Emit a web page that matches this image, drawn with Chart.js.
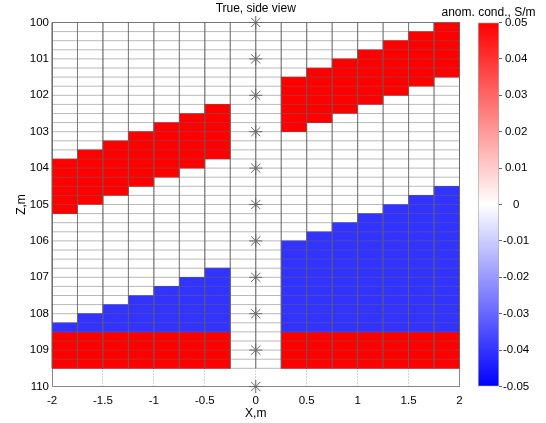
<!DOCTYPE html>
<html>
<head>
<meta charset="utf-8">
<script src="https://cdn.jsdelivr.net/npm/chart.js@4"></script>
<style>
    html, body { margin: 0; padding: 0; background: #fff; }
    #wrap { position: relative; width: 546px; height: 423px; }
    #main { position: absolute; left: 0; top: 0; }
    #cbar { position: absolute; left: 431px; top: 0; }
</style>
</head>
<body>
<div id="wrap">
    <canvas id="main" width="546" height="423"></canvas>
    <canvas id="cbar" width="115" height="423"></canvas>
</div>
<script>
// Cell centres (X, m) of the model columns
const cellX = [-1.875, -1.625, -1.375, -1.125, -0.875, -0.625, -0.375,
               0.375, 0.625, 0.875, 1.125, 1.375, 1.625, 1.875];

// Upper conductive (red) layer, Z top / bottom per column
const redTopFrom = [103.75, 103.5, 103.25, 103, 102.75, 102.5, 102.25,
                    101.5, 101.25, 101, 100.75, 100.5, 100.25, 100];
const redTopTo = [105.25, 105, 104.75, 104.5, 104.25, 104, 103.75,
                  103, 102.75, 102.5, 102.25, 102, 101.75, 101.5];

// Resistive (blue) wedge
const blueFrom = [108.25, 108, 107.75, 107.5, 107.25, 107, 106.75,
                  106, 105.75, 105.5, 105.25, 105, 104.75, 104.5];
const blueTo = [108.5, 108.5, 108.5, 108.5, 108.5, 108.5, 108.5,
                108.5, 108.5, 108.5, 108.5, 108.5, 108.5, 108.5];

// Bottom conductive (red) layer
const redBotFrom = [108.5, 108.5, 108.5, 108.5, 108.5, 108.5, 108.5,
                    108.5, 108.5, 108.5, 108.5, 108.5, 108.5, 108.5];
const redBotTo = [109.5, 109.5, 109.5, 109.5, 109.5, 109.5, 109.5,
                  109.5, 109.5, 109.5, 109.5, 109.5, 109.5, 109.5];

// anomalous conductivity of each body, S/m
const condRed = 0.05;
const condBlue = -0.04;

// mesh nodes
const meshX = [-2, -1.75, -1.5, -1.25, -1, -0.75, -0.5, -0.25, 0,
               0.25, 0.5, 0.75, 1, 1.25, 1.5, 1.75, 2];
const meshZ = [100, 100.25, 100.5, 100.75, 101, 101.25, 101.5, 101.75,
               102, 102.25, 102.5, 102.75, 103, 103.25, 103.5, 103.75,
               104, 104.25, 104.5, 104.75, 105, 105.25, 105.5, 105.75,
               106, 106.25, 106.5, 106.75, 107, 107.25, 107.5, 107.75,
               108, 108.25, 108.5, 108.75, 109, 109.25, 109.5];

// electrodes along the borehole at X = 0
const electrodeZ = [100, 101, 102, 103, 104, 105, 106, 107, 108, 109, 110];

// ticks
const xTicks = [-2, -1.5, -1, -0.5, 0, 0.5, 1, 1.5, 2];
const zTicks = [100, 101, 102, 103, 104, 105, 106, 107, 108, 109, 110];
const cbarTicks = [-0.05, -0.04, -0.03, -0.02, -0.01, 0, 0.01, 0.02, 0.03, 0.04, 0.05];

const FONT = "'Liberation Sans', Arial, sans-serif";
const MESH = 'rgba(100,100,100,0.45)';
const AXIS = '#888';

// blue - white - red colour map over [-0.05, 0.05]
function cmap(v) {
    const t = Math.max(-1, Math.min(1, v / 0.05));
    if (t >= 0) {
        const k = Math.round(255 * (1 - t));
        return `rgb(255,${k},${k})`;
    }
    const k = Math.round(255 * (1 + t));
    return `rgb(${k},${k},255)`;
}

function cells(from, to) {
    return cellX.map((x, i) => ({ x: x, y: [from[i], to[i]] }));
}

function barSet(from, to, value) {
    return {
        type: 'bar',
        data: cells(from, to),
        backgroundColor: cmap(value),
        borderWidth: 0,
        grouped: false,
        barPercentage: 1,
        categoryPercentage: 1,
        order: 2
    };
}

const x0 = meshX[0], x1 = meshX[meshX.length - 1];
const z0 = meshZ[0], z1 = meshZ[meshZ.length - 1];
const meshLines = []
    .concat(meshZ.flatMap(z => [{ x: x0, y: z }, { x: x1, y: z }, { x: x1, y: null }]))
    .concat(meshX.flatMap(x => [{ x: x, y: z0 }, { x: x, y: z1 }, { x: x, y: null }]));

Chart.defaults.font.family = FONT;
Chart.defaults.color = '#000';

new Chart(document.getElementById('main'), {
    type: 'bar',
    data: {
        datasets: [
            barSet(redTopFrom, redTopTo, condRed),
            barSet(blueFrom, blueTo, condBlue),
            barSet(redBotFrom, redBotTo, condRed),
            {
                type: 'line',
                data: meshLines,
                borderColor: MESH,
                borderWidth: 1,
                pointRadius: 0,
                tension: 0,
                fill: false,
                spanGaps: false,
                clip: false,
                order: 1
            },
            {
                type: 'scatter',
                data: electrodeZ.map(z => ({ x: 0, y: z })),
                pointStyle: 'star',
                pointRadius: 6.5,
                borderColor: '#666',
                borderWidth: 1,
                clip: false,
                order: 0
            }
        ]
    },
    options: {
        responsive: false,
        animation: false,
        events: [],
        layout: { padding: { left: 0, right: 86.5, top: 0, bottom: 0 } },
        plugins: {
            legend: { display: false },
            tooltip: { enabled: false },
            title: {
                display: true,
                text: 'True, side view',
                fullSize: false,
                font: { size: 12, weight: 'normal' },
                padding: { top: 1, bottom: 7.1 }
            }
        },
        scales: {
            x: {
                type: 'linear',
                min: -2,
                max: 2,
                offset: false,
                afterBuildTicks: s => { s.ticks = xTicks.map(v => ({ value: v })); },
                afterFit: s => { s.height = 36.5; },
                ticks: { font: { size: 11.5 }, padding: 7, callback: v => String(v) },
                grid: { offset: false, color: '#aaa', drawTicks: false },
                border: { color: AXIS, dash: [1, 2] },
                title: { display: true, text: 'X,m', font: { size: 12 }, padding: { top: 0, bottom: 2 } }
            },
            y: {
                type: 'linear',
                min: 100,
                max: 110,
                reverse: true,
                afterBuildTicks: s => { s.ticks = zTicks.map(v => ({ value: v })); },
                afterFit: s => { s.width = 52; },
                ticks: { font: { size: 11.5 }, padding: 3, callback: v => String(v) },
                grid: { display: false, drawTicks: false },
                border: { color: AXIS },
                title: { display: true, text: 'Z,m', font: { size: 12 }, padding: { top: 14, bottom: 0 } }
            },
            x2: {
                type: 'linear',
                position: 'top',
                min: -2,
                max: 2,
                ticks: { display: false },
                grid: { display: false, drawTicks: false },
                border: { color: AXIS },
                afterFit: s => { s.height = 0; }
            },
            y2: {
                type: 'linear',
                position: 'right',
                min: 100,
                max: 110,
                ticks: { display: false },
                grid: { display: false, drawTicks: false },
                border: { color: AXIS },
                afterFit: s => { s.width = 0; }
            }
        }
    }
});

// colour bar
new Chart(document.getElementById('cbar'), {
    type: 'bar',
    data: {
        labels: ['cond'],
        datasets: [{
            data: [[cbarTicks[0], cbarTicks[cbarTicks.length - 1]]],
            backgroundColor: ctx => {
                const chart = ctx.chart;
                if (!chart.chartArea) return null;
                const ys = chart.scales.y;
                const lo = cbarTicks[0], hi = cbarTicks[cbarTicks.length - 1];
                const g = chart.ctx.createLinearGradient(0, ys.getPixelForValue(lo), 0, ys.getPixelForValue(hi));
                cbarTicks.forEach(v => g.addColorStop((v - lo) / (hi - lo), cmap(v)));
                return g;
            },
            borderColor: '#aaa',
            borderWidth: 1,
            borderSkipped: false,
            barPercentage: 1,
            categoryPercentage: 1
        }]
    },
    options: {
        responsive: false,
        animation: false,
        events: [],
        layout: { padding: { left: 0, right: 0, top: 0, bottom: 36.5 } },
        plugins: {
            legend: { display: false },
            tooltip: { enabled: false },
            title: {
                display: true,
                text: 'anom. cond., S/m',
                font: { size: 12, weight: 'normal' },
                padding: { top: 5.3, bottom: 2.8 }
            }
        },
        scales: {
            x: { display: false },
            yl: {
                position: 'left',
                min: -0.05,
                max: 0.05,
                ticks: { display: false },
                grid: { display: false, drawTicks: false },
                border: { display: false },
                afterFit: s => { s.width = 47; }
            },
            y: {
                position: 'right',
                min: -0.05,
                max: 0.05,
                afterBuildTicks: s => { s.ticks = cbarTicks.map(v => ({ value: v })); },
                afterFit: s => { s.width = 47; },
                ticks: { font: { size: 11.5 }, padding: 1, crossAlign: 'center', callback: v => String(v) },
                grid: { drawOnChartArea: false, drawTicks: true, tickLength: 3, color: '#666' },
                border: { display: false }
            }
        }
    }
});
</script>
</body>
</html>
